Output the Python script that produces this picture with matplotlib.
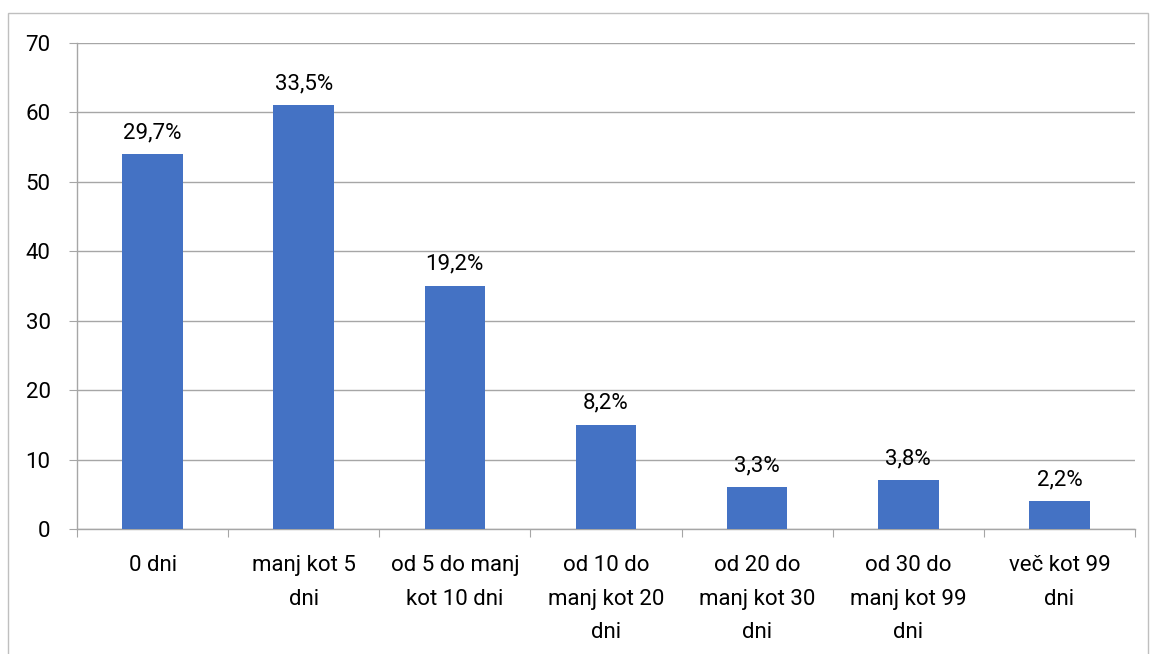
import matplotlib
matplotlib.use("Agg")
import matplotlib.pyplot as plt
from matplotlib.patches import Rectangle

categories = ["0 dni", "manj kot 5\ndni", "od 5 do manj\nkot 10 dni",
              "od 10 do\nmanj kot 20\ndni", "od 20 do\nmanj kot 30\ndni",
              "od 30 do\nmanj kot 99\ndni", "več kot 99\ndni"]
counts = [54, 61, 35, 15, 6, 7, 4]
yticks = [0, 10, 20, 30, 40, 50, 60, 70]

plt.rcParams['font.family'] = ['Roboto', 'DejaVu Sans']
FS = 16

W, H = 1150, 654
fig = plt.figure(figsize=(W / 100, H / 100), dpi=100)
ax = fig.add_axes([77 / W, 1 - 529 / H, (1135 - 77) / W, (529 - 43) / H])

total = sum(counts)
x = range(len(categories))
ax.bar(x, counts, width=0.4, color="#4472C4", zorder=3)
for xi, c in zip(x, counts):
    pct = f"{c / total * 100:.1f}%".replace(".", ",")
    ax.annotate(pct, (xi, c), xytext=(0, 8), textcoords="offset points",
                ha="center", va="bottom", fontsize=FS, color="black")

ax.set_xlim(-0.5, len(categories) - 0.5)
ax.set_ylim(0, 70)
ax.set_yticks(yticks)
ax.tick_params(axis="y", length=6, color="#A6A6A6", labelsize=FS, pad=13)
ax.set_xticks([i - 0.5 for i in range(len(categories) + 1)], minor=False)
ax.set_xticklabels([])
ax.set_xticks(list(x), minor=True)
ax.set_xticklabels(categories, minor=True, fontsize=FS, linespacing=1.78, va="top")
ax.tick_params(axis="x", which="major", length=6, color="#A6A6A6")
ax.tick_params(axis="x", which="minor", length=0, pad=19)
ax.grid(axis="y", color="#A6A6A6", linewidth=1, zorder=0)
for s in ["top", "right"]:
    ax.spines[s].set_visible(False)
for s in ["left", "bottom"]:
    ax.spines[s].set_color("#A6A6A6")
    ax.spines[s].set_linewidth(1)

fig.patches.append(Rectangle((8 / W, -0.01), (1148 - 8) / W, 1 - 13 / H + 0.01,
                             transform=fig.transFigure, fill=False,
                             edgecolor="#BFBFBF", linewidth=1))

fig.savefig("out.png", dpi=100)
